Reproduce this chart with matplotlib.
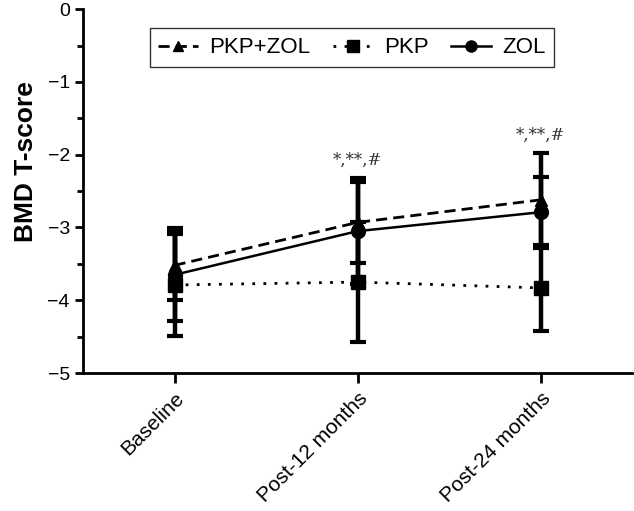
import numpy as np
import matplotlib
matplotlib.use("Agg")
import matplotlib.pyplot as plt

plt.rcParams['font.family'] = ['Liberation Sans', 'DejaVu Sans']

categories = ["Baseline", "Post-12 months", "Post-24 months"]

# mean and SD of BMD T-score per group
pkp_zol_mean = [-3.52, -2.93, -2.62]
pkp_zol_sd = [0.48, 0.56, 0.65]
pkp_mean = [-3.79, -3.75, -3.83]
pkp_sd = [0.70, 0.82, 0.59]
zol_mean = [-3.65, -3.05, -2.79]
zol_sd = [0.64, 0.73, 0.49]

signif = ["", "*,**,#", "*,**,#"]

x = np.arange(len(categories))

fig = plt.figure(figsize=(6.34, 5.11), dpi=100)
ax = fig.add_axes([0.131, 0.270, 0.866, 0.712])

err_kw = dict(ecolor="black", elinewidth=3.2, capsize=6, capthick=3)
ax.errorbar(x, pkp_zol_mean, yerr=pkp_zol_sd, color="black", ls=(0, (4, 2.2)),
            lw=2, marker="^", ms=9, label="PKP+ZOL", **err_kw)
ax.errorbar(x, pkp_mean, yerr=pkp_sd, color="black", ls=(0, (1, 3)),
            lw=2, marker="s", ms=10, label="PKP", **err_kw)
ax.errorbar(x, zol_mean, yerr=zol_sd, color="black", ls="-",
            lw=1.8, marker="o", ms=10, label="ZOL", **err_kw)

for xi, s, m, sd in zip(x, signif, pkp_zol_mean, pkp_zol_sd):
    if s:
        top = max(m + sd, zol_mean[xi] + zol_sd[xi])
        ax.text(xi, top + 0.12, s, ha="center", va="bottom", fontsize=12,
                family="DejaVu Serif", color="#333333")

ax.set_xlim(-0.5, 2.5)
ax.set_ylim(-5, 0)
ax.set_yticks(np.arange(-5, 0.1, 1))
ax.set_yticks(np.arange(-5, 0, 0.5), minor=True)
ax.set_yticklabels(["\u22125", "\u22124", "\u22123", "\u22122", "\u22121", "0"])
ax.set_xticks(x)
ax.set_xticklabels(categories, rotation=45, ha="right", rotation_mode="anchor")
ax.tick_params(axis="both", width=2, length=6, direction="out")
ax.tick_params(axis="y", labelsize=14)
ax.tick_params(axis="y", which="minor", width=2, length=4)
ax.tick_params(axis="x", labelsize=15, length=7, pad=4)
ax.set_ylabel("BMD T-score", fontsize=19, fontweight="bold")
ax.yaxis.set_label_coords(-0.082, 0.58)

for side in ["top", "right"]:
    ax.spines[side].set_visible(False)
for side in ["left", "bottom"]:
    ax.spines[side].set_linewidth(2)

handles, labels = ax.get_legend_handles_labels()
handles = [h[0] for h in handles]
leg = ax.legend(handles, labels, loc="upper center", bbox_to_anchor=(0.555, 0.966),
                bbox_transform=fig.transFigure, ncol=3,
                fontsize=16, frameon=True, fancybox=False, edgecolor="black",
                handlelength=1.8, columnspacing=1.0, handletextpad=0.5,
                borderpad=0.4, markerscale=0.8)
leg.get_frame().set_linewidth(1)

fig.savefig("out.png", dpi=100)
